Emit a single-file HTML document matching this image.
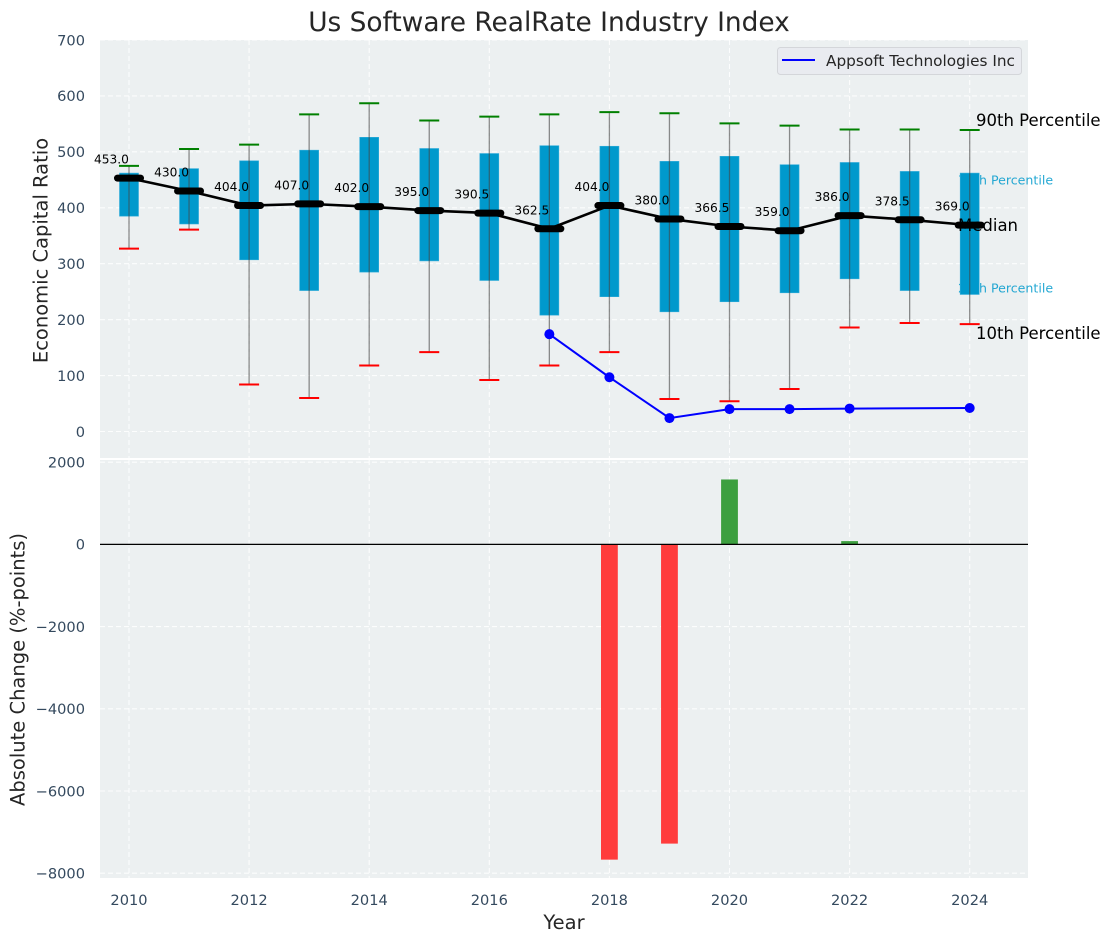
<!DOCTYPE html>
<html>
<head>
<meta charset="utf-8">
<title>Us Software RealRate Industry Index</title>
<style>
html,body{margin:0;padding:0;background:#fff;width:1111px;height:942px;overflow:hidden}
svg{display:block;font-family:"DejaVu Sans","Liberation Sans",sans-serif}
</style>
</head>
<body>
<svg id="chart" width="1111" height="942" viewBox="0 0 1111 942" xmlns="http://www.w3.org/2000/svg"></svg>
<script>
const years = [2010,2011,2012,2013,2014,2015,2016,2017,2018,2019,2020,2021,2022,2023,2024];
const p90 = [475,505,513,567,587,556,563,567,571,569,551,547,540,540,539];
const p75 = [462,470,484,503,526,506,497,511,510,483,492,477,481,465,462];
const medians = [453,430,404,407,402,395,390.5,362.5,404,380,366.5,359,386,378.5,369];
const p25 = [385,371,307,252,285,305,270,208,241,214,232,248,273,252,245];
const p10 = [327,361,84,60,118,142,92,118,142,58,54,76,186,194,192];
const companyYears = [2017,2018,2019,2020,2021,2022,2024];
const companyValues = [174,97,24,40,40,41,42];
const changeYears = [2018,2019,2020,2022];
const changeValues = [-7670,-7280,1580,80];
const xTicks = [2010,2012,2014,2016,2018,2020,2022,2024];
const topTicks = [0,100,200,300,400,500,600,700];
const bottomTicks = [2000,0,-2000,-4000,-6000,-8000];

const svg = document.getElementById('chart');
const NS = 'http://www.w3.org/2000/svg';
const xScale = v => 129 + (v - 2010) * 60.05;
const yTop = v => 431.5 - v * 0.5593;
const yBottom = v => 544.4 - v * 0.0411;

function make(tag, attrs, text){
  const el = document.createElementNS(NS, tag);
  for (const k in attrs) el.setAttribute(k, attrs[k]);
  if (text !== undefined) el.textContent = text;
  svg.appendChild(el);
  return el;
}
const gridStyle = {stroke:'#ffffff','stroke-width':1.1,'stroke-dasharray':'5 3','stroke-opacity':0.85};
const tickColor = '#34495e';
const inkColor = '#262626';

let el;
el = make('rect',{x:100,y:40,width:928,height:418,fill:'#ecf0f1'});


el = make('rect',{x:100,y:460,width:928,height:418,fill:'#ecf0f1'});



topTicks.forEach(t => {
  el = make('line',{x1:100,x2:1028,y1:yTop(t),y2:yTop(t),...gridStyle});
  
  
  el = make('text',{x:85,y:yTop(t)+5.3,'text-anchor':'end','font-size':14.6,fill:tickColor},t);
  
  
});
bottomTicks.forEach(t => {
  el = make('line',{x1:100,x2:1028,y1:yBottom(t),y2:yBottom(t),...gridStyle});
  
  
  el = make('text',{x:85,y:yBottom(t)+5.3,'text-anchor':'end','font-size':14.6,fill:tickColor},String(t).replace('-','\u2212'));
  
  
});
xTicks.forEach(t => {
  el = make('line',{x1:xScale(t),x2:xScale(t),y1:40,y2:458,...gridStyle});
  
  
  el = make('line',{x1:xScale(t),x2:xScale(t),y1:460,y2:878,...gridStyle});
  
  
  el = make('text',{x:xScale(t),y:905,'text-anchor':'middle','font-size':14.6,fill:tickColor},t);
  
  
});

el = make('text',{x:958,y:184.5,'font-size':12.6,fill:'#009acd','fill-opacity':0.85},'75th Percentile');


el = make('text',{x:958,y:292.5,'font-size':12.6,fill:'#009acd','fill-opacity':0.85},'25th Percentile');



years.forEach((y,i) => {
  const cx = xScale(y);
  el = make('rect',{x:cx-9.5,y:yTop(p75[i]),width:19,height:yTop(p25[i])-yTop(p75[i]),fill:'#0099cc',stroke:'#33adda','stroke-width':0.6});
  
  
  el = make('line',{x1:cx,x2:cx,y1:yTop(p90[i]),y2:yTop(p10[i]),stroke:'#444','stroke-width':1.3,'stroke-opacity':0.6});
  
  
  el = make('line',{x1:cx-10,x2:cx+10,y1:yTop(p90[i]),y2:yTop(p90[i]),stroke:'#008000','stroke-width':2});
  
  
  el = make('line',{x1:cx-10,x2:cx+10,y1:yTop(p10[i]),y2:yTop(p10[i]),stroke:'#ff0000','stroke-width':2});
  
  
});

el = make('text',{x:976,y:126,'font-size':16.5,fill:'#000'},'90th Percentile');


el = make('text',{x:958,y:231,'font-size':16.5,fill:'#000'},'Median');


el = make('text',{x:976,y:339,'font-size':16.5,fill:'#000'},'10th Percentile');



el = make('polyline',{points:years.map((y,i)=>xScale(y)+','+yTop(medians[i])).join(' '),fill:'none',stroke:'#000','stroke-width':2.6});



years.forEach((y,i) => {
  const cx = xScale(y), my = yTop(medians[i]);
  el = make('line',{x1:cx-11.5,x2:cx+11.5,y1:my,y2:my,stroke:'#000','stroke-width':7,'stroke-linecap':'round'});
  
  
  el = make('text',{x:cx-17.5,y:my-14.5,'text-anchor':'middle','font-size':12.2,fill:'#000'},medians[i].toFixed(1));
  
  
});

el = make('polyline',{points:companyYears.map((y,i)=>xScale(y)+','+yTop(companyValues[i])).join(' '),fill:'none',stroke:'#0000ff','stroke-width':2});


companyYears.forEach((y,i) => {
  el = make('circle',{cx:xScale(y),cy:yTop(companyValues[i]),r:5,fill:'#0000ff'});
  
  
});

changeYears.forEach((y,i) => {
  const v = changeValues[i], cx = xScale(y);
  const top = Math.min(yBottom(v), yBottom(0)), h = Math.abs(yBottom(v) - yBottom(0));
  el = make('rect',{x:cx-8.4,y:top,width:16.8,height:h,fill:v < 0 ? '#ff3c3c' : '#3c9f3f'});
  
  
});
el = make('line',{x1:100,x2:1028,y1:yBottom(0),y2:yBottom(0),stroke:'#000','stroke-width':1.3});



el = make('rect',{x:777.5,y:47.5,width:244,height:27,rx:3,fill:'#e9ebf0',stroke:'#d4d6da','stroke-width':1});


el = make('line',{x1:782,x2:815,y1:60,y2:60,stroke:'#0000ff','stroke-width':2});


el = make('text',{x:826,y:66,'font-size':15.3,fill:inkColor},'Appsoft Technologies Inc');



el = make('text',{x:549,y:31,'text-anchor':'middle','font-size':26.4,fill:inkColor},'Us Software RealRate Industry Index');


el = make('text',{x:0,y:0,transform:'translate(47.5,250.5) rotate(-90)','text-anchor':'middle','font-size':19.5,fill:inkColor},'Economic Capital Ratio');


el = make('text',{x:0,y:0,transform:'translate(24.5,669.5) rotate(-90)','text-anchor':'middle','font-size':19.5,fill:inkColor},'Absolute Change (%-points)');


el = make('text',{x:564,y:929,'text-anchor':'middle','font-size':19.5,fill:inkColor},'Year');


</script>
</body>
</html>
